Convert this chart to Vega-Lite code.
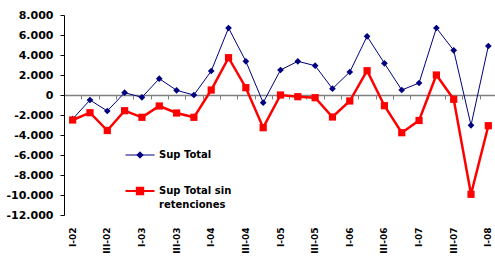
{
  "$schema": "https://vega.github.io/schema/vega-lite/v6.json",
  "width": 433,
  "height": 200,
  "autosize": "none",
  "padding": {"left": 64, "top": 15, "right": 0, "bottom": 41},
  "config": {"view": {"stroke": null}, "font": "DejaVu Sans"},
  "data": {"values": [
    {"q": "I-02", "s": "Sup Total", "v": -2400},
    {"q": "II-02", "s": "Sup Total", "v": -500},
    {"q": "III-02", "s": "Sup Total", "v": -1600},
    {"q": "IV-02", "s": "Sup Total", "v": 230},
    {"q": "I-03", "s": "Sup Total", "v": -230},
    {"q": "II-03", "s": "Sup Total", "v": 1630},
    {"q": "III-03", "s": "Sup Total", "v": 470},
    {"q": "IV-03", "s": "Sup Total", "v": 0},
    {"q": "I-04", "s": "Sup Total", "v": 2400},
    {"q": "II-04", "s": "Sup Total", "v": 6700},
    {"q": "III-04", "s": "Sup Total", "v": 3370},
    {"q": "IV-04", "s": "Sup Total", "v": -770},
    {"q": "I-05", "s": "Sup Total", "v": 2500},
    {"q": "II-05", "s": "Sup Total", "v": 3370},
    {"q": "III-05", "s": "Sup Total", "v": 2930},
    {"q": "IV-05", "s": "Sup Total", "v": 630},
    {"q": "I-06", "s": "Sup Total", "v": 2300},
    {"q": "II-06", "s": "Sup Total", "v": 5870},
    {"q": "III-06", "s": "Sup Total", "v": 3170},
    {"q": "IV-06", "s": "Sup Total", "v": 500},
    {"q": "I-07", "s": "Sup Total", "v": 1200},
    {"q": "II-07", "s": "Sup Total", "v": 6700},
    {"q": "III-07", "s": "Sup Total", "v": 4470},
    {"q": "IV-07", "s": "Sup Total", "v": -3030},
    {"q": "I-08", "s": "Sup Total", "v": 4900},
    {"q": "I-02", "s": "Sup Total sin retenciones", "v": -2500},
    {"q": "II-02", "s": "Sup Total sin retenciones", "v": -1770},
    {"q": "III-02", "s": "Sup Total sin retenciones", "v": -3550},
    {"q": "IV-02", "s": "Sup Total sin retenciones", "v": -1570},
    {"q": "I-03", "s": "Sup Total sin retenciones", "v": -2230},
    {"q": "II-03", "s": "Sup Total sin retenciones", "v": -1100},
    {"q": "III-03", "s": "Sup Total sin retenciones", "v": -1800},
    {"q": "IV-03", "s": "Sup Total sin retenciones", "v": -2230},
    {"q": "I-04", "s": "Sup Total sin retenciones", "v": 500},
    {"q": "II-04", "s": "Sup Total sin retenciones", "v": 3730},
    {"q": "III-04", "s": "Sup Total sin retenciones", "v": 730},
    {"q": "IV-04", "s": "Sup Total sin retenciones", "v": -3270},
    {"q": "I-05", "s": "Sup Total sin retenciones", "v": 0},
    {"q": "II-05", "s": "Sup Total sin retenciones", "v": -170},
    {"q": "III-05", "s": "Sup Total sin retenciones", "v": -270},
    {"q": "IV-05", "s": "Sup Total sin retenciones", "v": -2200},
    {"q": "I-06", "s": "Sup Total sin retenciones", "v": -600},
    {"q": "II-06", "s": "Sup Total sin retenciones", "v": 2430},
    {"q": "III-06", "s": "Sup Total sin retenciones", "v": -1070},
    {"q": "IV-06", "s": "Sup Total sin retenciones", "v": -3770},
    {"q": "I-07", "s": "Sup Total sin retenciones", "v": -2550},
    {"q": "II-07", "s": "Sup Total sin retenciones", "v": 2000},
    {"q": "III-07", "s": "Sup Total sin retenciones", "v": -430},
    {"q": "IV-07", "s": "Sup Total sin retenciones", "v": -9930},
    {"q": "I-08", "s": "Sup Total sin retenciones", "v": -3070}
  ]},
  "encoding": {
    "y": {
      "field": "v", "type": "quantitative",
      "scale": {"domain": [-12000, 8000], "nice": false, "zero": false},
      "axis": {
        "title": null, "grid": false,
        "values": [-12000, -10000, -8000, -6000, -4000, -2000, 0, 2000, 4000, 6000, 8000],
        "labelExpr": "datum.value == 0 ? '0' : replace(format(datum.value / 1000, '.3f'), '−', '-')",
        "labelFont": "DejaVu Sans", "labelFontWeight": "bold", "labelFontSize": 11,
        "labelColor": "black", "domainColor": "black", "tickColor": "black",
        "tickSize": 4, "labelPadding": 7, "domainWidth": 1, "labelOverlap": false
      }
    }
  },
  "layer": [
    {
      "mark": {"type": "line"},
      "encoding": {
        "x": {
          "field": "q", "type": "nominal", "sort": null,
          "scale": {"paddingInner": 0, "paddingOuter": 0},
          "axis": {
            "orient": "bottom", "title": null, "domain": false, "ticks": false,
            "labelAngle": -90, "labelAlign": "right", "labelBaseline": "middle",
            "labelPadding": 12, "labelOverlap": false,
            "labelExpr": "test(regexp('^(I|III)-'), datum.label) ? datum.label : ''",
            "labelFont": "DejaVu Sans", "labelFontSize": 9, "labelFontWeight": "bold", "labelColor": "black"
          }
        },
        "order": {"value": null},
        "stroke": {
          "field": "s", "type": "nominal",
          "scale": {"domain": ["Sup Total", "Sup Total sin retenciones"], "range": ["#000080", "#ff0000"]},
          "legend": {
            "orient": "none", "legendX": 71, "legendY": 135, "title": null, "padding": 0,
            "symbolType": "stroke", "symbolStrokeWidth": 1,
            "labelFont": "DejaVu Sans", "labelFontWeight": "bold", "labelFontSize": 10,
            "labelColor": "black", "labelOffset": 14, "rowPadding": 22, "labelLimit": 300,
            "labelExpr": "datum.label == 'Sup Total sin retenciones' ? ['Sup Total sin', 'retenciones'] : datum.label",
            "encode": {
              "symbols": {"update": {
                "size": {"value": 841},
                "shape": {"signal": "datum.value === 'Sup Total' ? 'M-1,0H1M0,-0.22L0.22,0L0,0.22L-0.22,0Z' : 'M-1,0H1M-0.22,-0.22H0.22V0.22H-0.22Z'"},
                "fill": {"signal": "datum.value === 'Sup Total' ? '#000080' : '#ff0000'"},
                "fillOpacity": {"value": 1},
                "strokeWidth": {"signal": "datum.value === 'Sup Total' ? 1 : 2"}
              }},
              "labels": {"update": {
                "lineHeight": {"value": 14}
              }}
            }
          }
        },
        "strokeWidth": {"condition": {"test": "datum.s === 'Sup Total'", "value": 1}, "value": 2.5}
      }
    },
    {
      "mark": {"type": "point", "filled": true, "opacity": 1},
      "encoding": {
        "x": {
          "field": "q", "type": "nominal", "sort": null,
          "scale": {"paddingInner": 0, "paddingOuter": 0},
          "axis": {
            "orient": "bottom", "offset": -120, "title": null, "labels": false,
            "domainColor": "#808080", "domainWidth": 1.5, "tickColor": "#808080",
            "tickSize": 4, "tickBand": "extent", "grid": false
          }
        },
        "color": {"condition": {"test": "datum.s === 'Sup Total'", "value": "#000080"}, "value": "#ff0000"},
        "shape": {"condition": {"test": "datum.s === 'Sup Total'", "value": "diamond"}, "value": "square"},
        "size": {"condition": {"test": "datum.s === 'Sup Total'", "value": 45}, "value": 52}
      }
    }
  ],
  "resolve": {"axis": {"x": "independent"}}
}
